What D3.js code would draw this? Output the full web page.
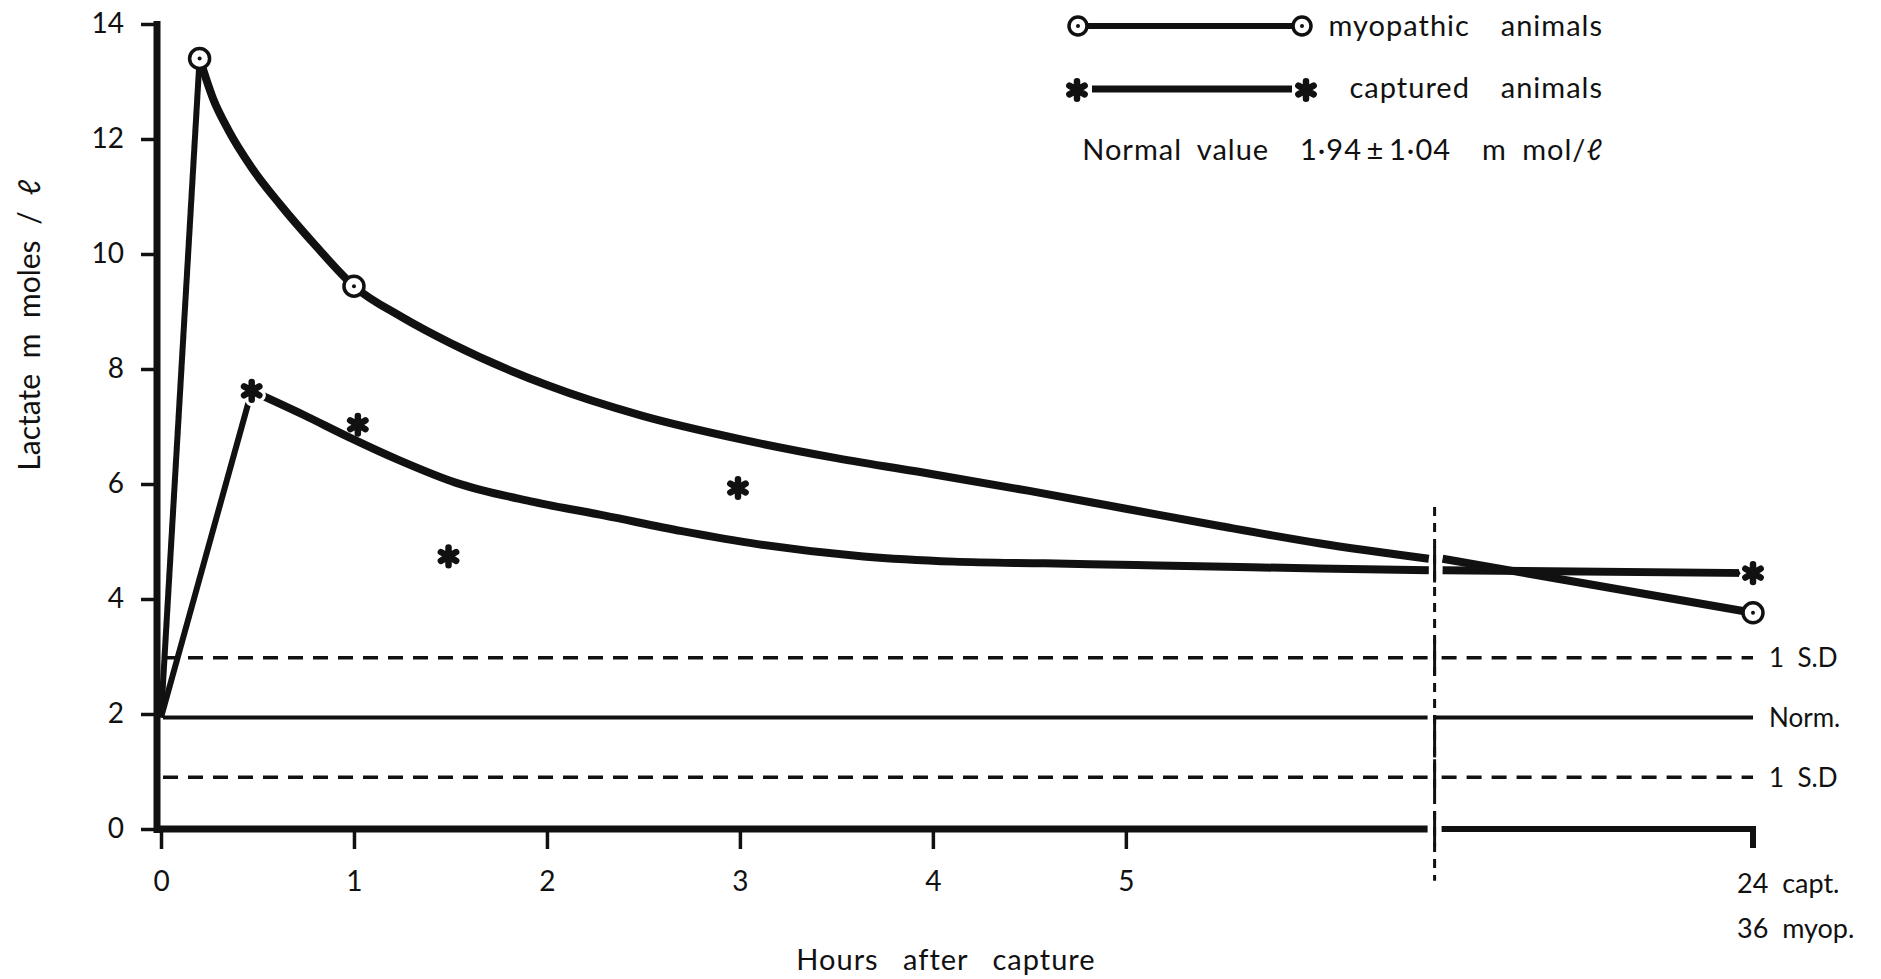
<!DOCTYPE html>
<html>
<head>
<meta charset="utf-8">
<script src="https://cdn.jsdelivr.net/npm/d3@7"></script>
<style>
  html, body { margin: 0; padding: 0; background: #fff; }
  svg { display: block; }
  text { font-family: Lato, "DejaVu Sans", sans-serif; fill: #111; }
</style>
</head>
<body>
<svg id="chart" width="1881" height="979"></svg>
<script>
// Blood lactate after capture, m mol/ℓ

const yTicks = [0, 2, 4, 6, 8, 10, 12, 14];
const xTicks = [0, 1, 2, 3, 4, 5];
const lateTickLabels = ["24  capt.", "36  myop."];

// Normal value 1.94 ± 1.04
const normalMean = 1.94;
const normalSD = 1.04;

// Myopathic animals: measured means
const myoHours = [0.2, 1];
const myoValues = [13.4, 9.44];
const myoLateHours = 36;
const myoLateValue = 3.76;
// Myopathic animals: fitted curve
const myoCurveHours  = [0, 0.2, 0.27, 0.35, 0.47, 0.62, 0.8, 1.0, 1.25, 1.5, 2.0, 2.5, 3.0, 3.5, 4.0, 4.5, 5.0, 5.5, 6.0, 6.57];
const myoCurveValues = [1.94, 13.4, 12.7, 12.15, 11.5, 10.85, 10.15, 9.44, 8.9, 8.45, 7.72, 7.18, 6.78, 6.45, 6.17, 5.88, 5.57, 5.26, 4.97, 4.70];

// Captured animals: measured means
const capHours = [0.47, 1.02, 1.49, 2.99];
const capValues = [7.62, 7.03, 4.74, 5.93];
const capLateHours = 24;
const capLateValue = 4.45;
// Captured animals: fitted curve
const capCurveHours  = [0, 0.47, 0.74, 0.97, 1.23, 1.53, 1.93, 2.3, 2.7, 3.1, 3.64, 4.11, 4.58, 5.05, 5.52, 6.0, 6.57];
const capCurveValues = [1.94, 7.62, 7.2, 6.82, 6.42, 6.02, 5.69, 5.45, 5.18, 4.95, 4.74, 4.65, 4.62, 4.59, 4.56, 4.53, 4.50];

// The time axis is broken after 6.6 h; the late samples sit at axis slot 8.25
const BREAK_AT = 6.6;
const LATE_SLOT = 8.25;

const svg = d3.select("#chart");
const plot = { left: 161, right: 1753, top: 24, bottom: 829 };

const x = d3.scaleLinear().domain([0, LATE_SLOT]).range([plot.left, plot.right]);
const y = d3.scaleLinear().domain([0, 14]).range([plot.bottom, plot.top]);

const xBreak = x(BREAK_AT);
const gapL = xBreak - 7, gapR = xBreak + 7;
const xLate = x(LATE_SLOT);
const ink = "#111";
const FONT = "Lato, 'DejaVu Sans', sans-serif";

// ---- reference band (normal ± 1 SD) ----
const refLines = [
  { v: normalMean + normalSD, dash: "15,10", w: 3.5, label: "1  S.D" },
  { v: normalMean,            dash: null,    w: 4,   label: "Norm." },
  { v: normalMean - normalSD, dash: "15,10", w: 3.5, label: "1  S.D" }
];
const refG = svg.append("g");
refLines.forEach(r => {
  const segs = [[x(0) + 2, gapL], [r.dash ? gapR : xBreak, xLate]];
  segs.forEach(s => {
    refG.append("line")
      .attr("x1", s[0]).attr("x2", s[1])
      .attr("y1", y(r.v)).attr("y2", y(r.v))
      .attr("stroke", ink).attr("stroke-width", r.w)
      .attr("stroke-dasharray", r.dash);
  });
  refG.append("text")
    .attr("x", xLate + 16).attr("y", y(r.v))
    .attr("dy", "0.36em")
    .attr("font-size", 26)
    .attr("xml:space", "preserve")
    .style("white-space", "pre")
    .text(r.label);
});

// ---- axes ----
const yAxis = d3.axisLeft(y).tickValues(yTicks).tickSize(16).tickPadding(17).tickSizeOuter(0);
const yG = svg.append("g").attr("transform", `translate(${x(0) - 4},0)`).call(yAxis);
yG.select(".domain").remove();
yG.selectAll(".tick line").attr("stroke", ink).attr("stroke-width", 3.5);
yG.selectAll(".tick text").attr("font-size", 28).attr("fill", ink).attr("font-family", FONT);
svg.append("line")
  .attr("x1", x(0) - 4).attr("x2", x(0) - 4)
  .attr("y1", y(14) - 3).attr("y2", y(0) + 4)
  .attr("stroke", ink).attr("stroke-width", 7);

const xAxis = d3.axisBottom(x).tickValues(xTicks).tickSize(20).tickPadding(22).tickSizeOuter(0);
const xG = svg.append("g").attr("transform", `translate(0,${y(0)})`).call(xAxis);
xG.select(".domain").remove();
xG.selectAll(".tick line").attr("stroke", ink).attr("stroke-width", 3.5);
xG.selectAll(".tick text").attr("font-size", 28).attr("fill", ink).attr("font-family", FONT);

// x-axis baseline, split at the break, with the closing tick at the late slot
svg.append("path")
  .attr("d", `M${x(0) - 7},${y(0)}H${gapL}`)
  .attr("stroke", ink).attr("stroke-width", 7).attr("fill", "none");
svg.append("path")
  .attr("d", `M${gapR},${y(0)}H${xLate}V${y(0) + 19}`)
  .attr("stroke", ink).attr("stroke-width", 6).attr("fill", "none");

lateTickLabels.forEach((t, i) => {
  svg.append("text")
    .attr("x", xLate - 16).attr("y", y(0) + 54 + i * 45)
    .attr("dy", "0.36em")
    .attr("font-size", 27)
    .attr("xml:space", "preserve")
    .style("white-space", "pre")
    .text(t);
});

// axis titles
svg.append("text")
  .attr("x", 946).attr("y", 960)
  .attr("dy", "0.36em")
  .attr("text-anchor", "middle")
  .attr("font-size", 29)
  .attr("letter-spacing", 1)
  .attr("word-spacing", 16)
  .text("Hours after capture");

svg.append("text")
  .attr("transform", `translate(40,${325}) rotate(-90)`)
  .attr("text-anchor", "middle")
  .attr("font-size", 30)
  .attr("word-spacing", 8)
  .text("Lactate  m moles / ℓ");

// ---- break marker ----
const brk = svg.append("g");
brk.append("line")
  .attr("x1", xBreak).attr("x2", xBreak)
  .attr("y1", y(5.6)).attr("y2", y(-0.9))
  .attr("stroke", ink).attr("stroke-width", 3)
  .attr("stroke-dasharray", "9,7");
[4.6, normalMean + normalSD, normalMean - normalSD, 0].forEach(v => {
  brk.append("line")
    .attr("x1", xBreak).attr("x2", xBreak)
    .attr("y1", y(v) - 18).attr("y2", y(v) + 18)
    .attr("stroke", ink).attr("stroke-width", 3);
});
brk.append("line")
  .attr("x1", xBreak).attr("x2", xBreak)
  .attr("y1", y(normalMean) - 2).attr("y2", y(normalMean) + 40)
  .attr("stroke", ink).attr("stroke-width", 3);

// ---- series curves ----
const rise = d3.line().x(d => x(d[0])).y(d => y(d[1]));
const decay = d3.line().x(d => x(d[0])).y(d => y(d[1])).curve(d3.curveMonotoneX);

function drawSeries(hours, values, lateValue) {
  const pts = hours.map((h, i) => [h, values[i]]);
  const g = svg.append("g").attr("fill", "none").attr("stroke", ink)
    .attr("stroke-linejoin", "round");
  g.append("path").attr("d", rise(pts.slice(0, 2))).attr("stroke-width", 6);
  g.append("path").attr("d", decay(pts.slice(1))).attr("stroke-width", 8);
  // continuation past the break
  const last = pts[pts.length - 1];
  g.append("line")
    .attr("x1", gapR + 1).attr("y1", y(last[1]))
    .attr("x2", xLate).attr("y2", y(lateValue))
    .attr("stroke-width", 8);
}
drawSeries(myoCurveHours, myoCurveValues, myoLateValue);
drawSeries(capCurveHours, capCurveValues, capLateValue);

// ---- markers ----
function circleMarker(g, cx, cy, r) {
  g.append("circle").attr("cx", cx).attr("cy", cy).attr("r", r)
    .attr("fill", "#fff").attr("stroke", ink).attr("stroke-width", 3.5);
  g.append("circle").attr("cx", cx).attr("cy", cy).attr("r", 2)
    .attr("fill", ink);
}
const star = d3.symbol(d3.symbolAsterisk).size(220);
function starMarker(g, cx, cy, halo) {
  if (halo) {
    g.append("path").attr("d", star()).attr("transform", `translate(${cx},${cy})`)
      .attr("fill", "none").attr("stroke", "#fff").attr("stroke-width", 13)
      .attr("stroke-linecap", "round");
  }
  g.append("path").attr("d", star()).attr("transform", `translate(${cx},${cy})`)
    .attr("fill", "none").attr("stroke", ink).attr("stroke-width", 6.5)
    .attr("stroke-linecap", "round");
}

const mk = svg.append("g");
myoHours.forEach((h, i) => circleMarker(mk, x(h), y(myoValues[i]), 10));
circleMarker(mk, xLate, y(myoLateValue), 10);
capHours.forEach((h, i) => starMarker(mk, x(h), y(capValues[i]), i === 0));
starMarker(mk, xLate, y(capLateValue), true);

// ---- legend ----
const lg = svg.append("g");
lg.append("line").attr("x1", 1078).attr("x2", 1302).attr("y1", 26).attr("y2", 26)
  .attr("stroke", ink).attr("stroke-width", 6);
circleMarker(lg, 1078, 26, 9);
circleMarker(lg, 1302, 26, 9);
lg.append("line").attr("x1", 1092).attr("x2", 1292).attr("y1", 89).attr("y2", 89)
  .attr("stroke", ink).attr("stroke-width", 7);
starMarker(lg, 1077, 90, false);
starMarker(lg, 1306, 90, false);

const legendText = [
  { t: "myopathic  animals", y: 26 },
  { t: "captured  animals", y: 88 },
  { t: "Normal value  1·94\u2009±\u20091·04  m mol/ℓ", y: 150 }
];
legendText.forEach(d => {
  lg.append("text")
    .attr("x", 1603).attr("y", d.y)
    .attr("dy", "0.36em")
    .attr("text-anchor", "end")
    .attr("font-size", 29)
    .attr("letter-spacing", 1)
    .attr("word-spacing", 7)
    .attr("xml:space", "preserve")
    .style("white-space", "pre")
    .text(d.t);
});
</script>
</body>
</html>
